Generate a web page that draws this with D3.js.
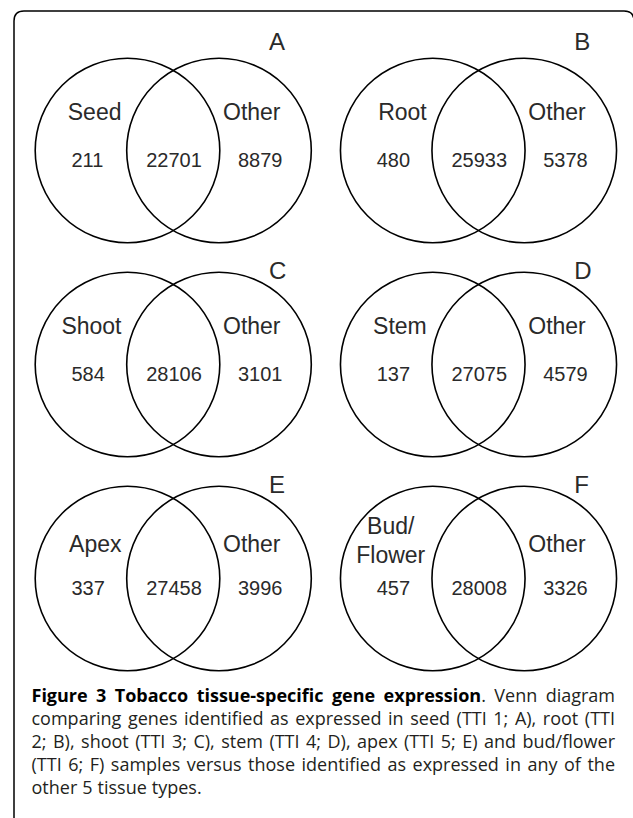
<!DOCTYPE html>
<html lang="en">
<head>
  <meta charset="UTF-8">
  <title>Tobacco tissue-specific gene expression</title>
  <style>
    body { margin: 0; background: #fff; }
    svg { display: block; }
    .venn text { font-family: "Liberation Sans", Arial, sans-serif; fill: #2a2a2a; }
    .caption text { font-family: "Open Sans", "Noto Sans", sans-serif; font-size: 18px; fill: #231f20; }
    .caption .bold { font-weight: 700; fill: #000; }
  </style>
</head>
<body>
  <svg width="633" height="818"></svg>

  <script src="https://d3js.org/d3.v7.min.js"></script>
  <script>
    // panel data, one entry per tissue
    const tissues = ["Seed", "Root", "Shoot", "Stem", "Apex", "Bud/Flower"];
    const panelLetters = ["A", "B", "C", "D", "E", "F"];
    const uniqueCounts = [211, 480, 584, 137, 337, 457];
    const sharedCounts = [22701, 25933, 28106, 27075, 27458, 28008];
    const otherCounts = [8879, 5378, 3101, 4579, 3996, 3326];
    const otherLabel = "Other";

    const captionLines = [
      [["Figure", 1], ["3", 1], ["Tobacco", 1], ["tissue-specific", 1], ["gene", 1], ["expression|.", 1], ["Venn", 0], ["diagram", 0]],
      "comparing genes identified as expressed in seed (TTI 1; A), root (TTI",
      "2; B), shoot (TTI 3; C), stem (TTI 4; D), apex (TTI 5; E) and bud/flower",
      "(TTI 6; F) samples versus those identified as expressed in any of the",
      "other 5 tissue types."
    ];

    const svg = d3.select("svg");

    // frame, rounded at the top corners
    svg.append("path")
      .attr("d", "M14,830 V21 Q14,11 24,11 H624 Q634,11 634,21 V830")
      .attr("fill", "none")
      .attr("stroke", "#000")
      .attr("stroke-width", 1.5);

    const panels = tissues.map((t, i) => ({
      tissue: t,
      letter: panelLetters[i],
      unique: uniqueCounts[i],
      shared: sharedCounts[i],
      other: otherCounts[i],
      col: i % 2,
      row: Math.floor(i / 2)
    }));

    const x = d3.scaleLinear().domain([0, 1]).range([173.25, 478.5]);
    const y = d3.scaleLinear().domain([0, 2]).range([150.5, 578.5]);
    const r = 92.3, half = 45.75;
    const letterY = [50, 279, 493];
    const labelDy = [-30.5, -30.5, -27];

    const g = svg.append("g").attr("class", "venn")
      .selectAll("g")
      .data(panels)
      .join("g")
      .attr("transform", d => `translate(${x(d.col)},${y(d.row)})`);

    g.selectAll("circle")
      .data([-half, half])
      .join("circle")
      .attr("cx", d => d)
      .attr("cy", 0)
      .attr("r", r)
      .attr("fill", "none")
      .attr("stroke", "#000")
      .attr("stroke-width", 1.6);

    g.append("text")
      .attr("x", half + 50)
      .attr("y", d => letterY[d.row] - y(d.row))
      .attr("font-size", 24)
      .text(d => d.letter);

    // tissue label, right aligned inside the left circle
    g.each(function(d) {
      const parts = d.tissue.includes("/") ? [d.tissue.split("/")[0] + "/", d.tissue.split("/")[1]] : [d.tissue];
      const sel = d3.select(this);
      if (parts.length === 1) {
        sel.append("text")
          .attr("x", -half - 6)
          .attr("y", labelDy[d.row])
          .attr("text-anchor", "end")
          .attr("font-size", 23)
          .text(parts[0]);
      } else {
        sel.selectAll("text.multi")
          .data(parts)
          .join("text")
          .attr("class", "multi")
          .attr("x", -half - 42)
          .attr("y", (p, k) => k === 0 ? -45 : -16)
          .attr("text-anchor", "middle")
          .attr("font-size", 23)
          .text(p => p);
      }
    });

    g.append("text")
      .attr("x", half + 4)
      .attr("y", d => labelDy[d.row])
      .attr("font-size", 23)
      .text(otherLabel);

    g.append("text")
      .attr("x", -half - 56)
      .attr("y", 16)
      .attr("font-size", 20)
      .text(d => d.unique);

    g.append("text")
      .attr("x", -27)
      .attr("y", 16)
      .attr("font-size", 20)
      .text(d => d.shared);

    g.append("text")
      .attr("x", half + 19)
      .attr("y", 16)
      .attr("font-size", 20)
      .text(d => d.other);

    // caption, justified word by word
    const cap = svg.append("g").attr("class", "caption");
    const left = 31.5, right = 615, lineH = 23, base = 701.5;

    captionLines.forEach((line, li) => {
      const words = typeof line === "string" ? line.split(" ").map(w => [w, 0]) : line;
      const nodes = words.map(([w, bold]) => {
        const t = cap.append("text").attr("y", base + li * lineH);
        w.split("|").forEach((seg, si) => {
          t.append("tspan")
            .attr("class", bold && si === 0 ? "bold" : null)
            .text(seg);
        });
        return t;
      });
      const widths = nodes.map(t => t.node().getComputedTextLength());
      const last = li === captionLines.length - 1;
      const space = 5;
      const gap = last ? space : (right - left - d3.sum(widths)) / (nodes.length - 1);
      let cx = left;
      nodes.forEach((t, k) => {
        t.attr("x", cx);
        cx += widths[k] + gap;
      });
    });
  </script>
</body>
</html>
